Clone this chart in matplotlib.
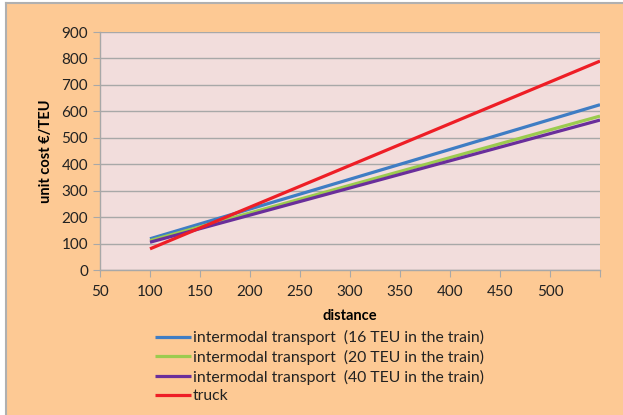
import numpy as np
import matplotlib.pyplot as plt
from matplotlib.patches import Rectangle

plt.rcParams['font.family'] = ['Lato', 'DejaVu Sans']

# data
distance = [100, 550]
cost_16 = [118, 625]
cost_20 = [111, 582]
cost_40 = [105, 567]
cost_truck = [80, 790]
labels = ["intermodal transport  (16 TEU in the train)",
          "intermodal transport  (20 TEU in the train)",
          "intermodal transport  (40 TEU in the train)",
          "truck"]
colors = ["#3F7DC4", "#9BCB4F", "#6A2E9B", "#EE1E26"]

W, H = 623, 415
fig = plt.figure(figsize=(W / 100, H / 100), dpi=100)
fig.patch.set_facecolor("white")
bg = Rectangle((6 / W, 0), 1, 1 - 3 / H, transform=fig.transFigure,
               facecolor="#FDC994", edgecolor="none", zorder=-2)
fig.patches.append(bg)
fig.add_artist(plt.Line2D([6 / W, 6 / W], [0, 1 - 3 / H], transform=fig.transFigure,
                          color="#B0B0B0", lw=1.5))
fig.add_artist(plt.Line2D([6 / W, 1], [1 - 3 / H, 1 - 3 / H], transform=fig.transFigure,
                          color="#B0B0B0", lw=1.5))

ax = fig.add_axes([100 / W, 1 - 270 / H, 500 / W, 238 / H])
ax.set_facecolor("#F2DDDC")

for ys, lab, c in zip([cost_16, cost_20, cost_40, cost_truck], labels, colors):
    ax.plot(distance, ys, color=c, lw=2.3, label=lab, solid_capstyle="butt")

ax.set_xlim(50, 550)
ax.set_ylim(0, 900)
ax.set_xticks(np.arange(50, 551, 50))
ax.set_xticklabels([str(v) for v in range(50, 501, 50)] + [""])
ax.set_yticks(np.arange(0, 901, 100))
ax.yaxis.grid(True, color="#A8A8A8", lw=1)
ax.set_axisbelow(True)
for s in ["top", "right"]:
    ax.spines[s].set_visible(False)
for s in ["left", "bottom"]:
    ax.spines[s].set_color("#A8A8A8")
    ax.spines[s].set_linewidth(1)
ax.tick_params(colors="#A8A8A8", labelcolor="#222222", labelsize=11, length=5)
ax.tick_params(axis="x", pad=6)

ax.set_xlabel("distance", fontsize=10.5, fontweight="bold", labelpad=7)
ax.set_ylabel("unit cost €/TEU", fontsize=10.5, fontweight="bold", labelpad=6)

leg = fig.legend(loc="upper left", bbox_to_anchor=(155 / W, 1 - 330 / H), frameon=False,
                 fontsize=11.3, handlelength=2.3, handletextpad=0.1, labelspacing=0.3,
                 borderaxespad=0, borderpad=0)
for t in leg.get_texts():
    t.set_color("#222222")

fig.savefig("out.png", dpi=100)
